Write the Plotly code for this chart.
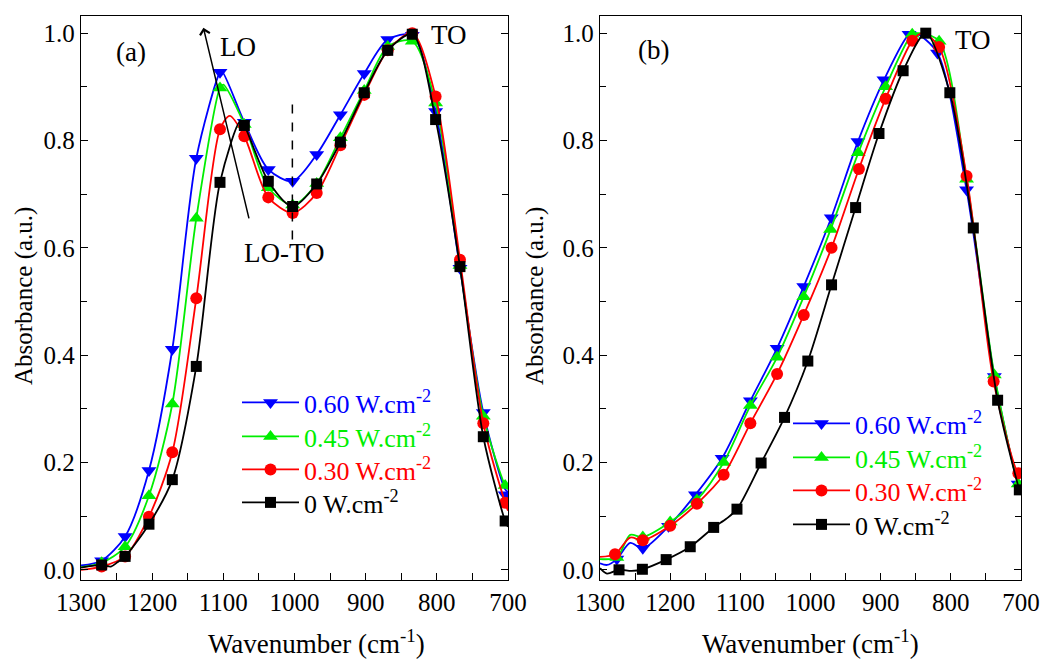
import plotly.graph_objects as go

# ---------------- Panel (a) data ----------------
a_mk_x = [1271, 1238, 1204.5, 1171.7, 1138, 1104.7, 1070.5, 1036.8, 1002.6, 968.8, 935.5, 902, 869, 834.5, 801.7, 767.5, 734.7, 704]
a_black_mk = [0.009, 0.025, 0.085, 0.168, 0.379, 0.722, 0.828, 0.724, 0.677, 0.719, 0.797, 0.889, 0.968, 0.998, 0.839, 0.565, 0.248, 0.091]
a_red_mk = [0.006, 0.025, 0.099, 0.219, 0.506, 0.821, 0.808, 0.694, 0.665, 0.702, 0.791, 0.885, 0.968, 1.0, 0.882, 0.578, 0.273, 0.125]
a_green_mk = [0.013, 0.043, 0.138, 0.309, 0.655, 0.898, 0.830, 0.712, 0.680, 0.720, 0.805, 0.893, 0.975, 0.985, 0.870, 0.567, 0.286, 0.157]
a_blue_mk = [0.017, 0.062, 0.185, 0.411, 0.767, 0.927, 0.834, 0.746, 0.724, 0.774, 0.848, 0.925, 0.988, 0.996, 0.854, 0.562, 0.293, 0.140]

a_black_lx = [1300, 1271, 1258, 1249, 1238, 1204.5, 1171.7, 1138, 1104.7, 1076, 1070.5, 1036.8, 1002.6, 968.8, 935.5, 902, 869, 834.5, 801.7, 767.5, 734.7, 704, 700]
a_black_ly = [0.004, 0.009, 0.006, 0.014, 0.025, 0.085, 0.168, 0.379, 0.722, 0.836, 0.828, 0.724, 0.677, 0.719, 0.797, 0.889, 0.968, 0.998, 0.839, 0.565, 0.248, 0.091, 0.080]
a_red_lx = [1300, 1271, 1238, 1204.5, 1171.7, 1138, 1104.7, 1091, 1070.5, 1036.8, 1002.6, 968.8, 935.5, 902, 869, 834.5, 801.7, 767.5, 734.7, 704, 700]
a_red_ly = [0.000, 0.006, 0.025, 0.099, 0.219, 0.506, 0.821, 0.846, 0.808, 0.694, 0.665, 0.702, 0.791, 0.885, 0.968, 1.0, 0.882, 0.578, 0.273, 0.125, 0.110]
a_green_lx = [1300, 1271, 1238, 1204.5, 1171.7, 1138, 1104.7, 1100, 1070.5, 1036.8, 1002.6, 968.8, 935.5, 902, 869, 834.5, 801.7, 767.5, 734.7, 704, 700]
a_green_ly = [0.005, 0.013, 0.043, 0.138, 0.309, 0.655, 0.898, 0.904, 0.830, 0.712, 0.680, 0.720, 0.805, 0.893, 0.975, 0.985, 0.870, 0.567, 0.286, 0.157, 0.150]
a_blue_lx = [1300, 1271, 1238, 1204.5, 1171.7, 1138, 1104.7, 1102, 1070.5, 1036.8, 1002.6, 968.8, 935.5, 902, 869, 834.5, 801.7, 767.5, 734.7, 704, 700]
a_blue_ly = [0.008, 0.017, 0.062, 0.185, 0.411, 0.767, 0.927, 0.929, 0.834, 0.746, 0.724, 0.774, 0.848, 0.925, 0.988, 0.996, 0.854, 0.562, 0.293, 0.150, 0.145]

# ---------------- Panel (b) data ----------------
b_black_mk_x = [1272.9, 1239.6, 1205.7, 1171.4, 1138, 1104.8, 1070.4, 1037, 1003.8, 970, 935.7, 902.4, 868, 835.7, 801.4, 768, 733.3, 702.4]
b_black_mk = [0.000, 0.001, 0.019, 0.043, 0.079, 0.113, 0.199, 0.284, 0.389, 0.531, 0.675, 0.813, 0.930, 1.0, 0.889, 0.637, 0.316, 0.149]
b_red_mk_x = [1278.6, 1239, 1200, 1161.9, 1123.8, 1085.7, 1047.6, 1009.6, 970, 931, 892.9, 854.8, 816.7, 777.6, 739, 703.8]
b_red_mk = [0.029, 0.055, 0.082, 0.123, 0.177, 0.273, 0.365, 0.475, 0.600, 0.747, 0.878, 0.986, 0.974, 0.734, 0.351, 0.180]
b_green_mk_x = [1276, 1239, 1200, 1161.9, 1123.8, 1085.7, 1047.6, 1009.6, 971.4, 931.9, 892.9, 855, 816.7, 777.6, 738, 704]
b_green_mk = [0.023, 0.061, 0.089, 0.130, 0.200, 0.306, 0.396, 0.509, 0.634, 0.777, 0.900, 0.998, 0.985, 0.728, 0.363, 0.160]
b_blue_mk_x = [1276, 1239, 1202.4, 1164, 1126, 1085.7, 1047.6, 1009.6, 970.4, 932.4, 895.3, 859.5, 819, 777.6, 738, 704]
b_blue_mk = [0.020, 0.040, 0.081, 0.140, 0.208, 0.315, 0.413, 0.528, 0.656, 0.798, 0.913, 0.998, 0.963, 0.708, 0.360, 0.160]

b_black_lx = [1300, 1290, 1272.9, 1255, 1239.6, 1205.7, 1171.4, 1138, 1120, 1104.8, 1070.4, 1037, 1003.8, 970, 935.7, 902.4, 868, 835.7, 801.4, 768, 733.3, 702.4, 700]
b_black_ly = [0.003, -0.007, 0.000, -0.002, 0.001, 0.019, 0.043, 0.079, 0.095, 0.113, 0.199, 0.284, 0.389, 0.531, 0.675, 0.813, 0.930, 1.0, 0.889, 0.637, 0.316, 0.149, 0.140]
b_red_lx = [1300, 1278.6, 1257, 1239, 1200, 1161.9, 1123.8, 1085.7, 1047.6, 1009.6, 970, 931, 892.9, 854.8, 840, 816.7, 777.6, 739, 703.8, 700]
b_red_ly = [0.024, 0.029, 0.060, 0.055, 0.082, 0.123, 0.177, 0.273, 0.365, 0.475, 0.600, 0.747, 0.878, 0.986, 1.0, 0.974, 0.734, 0.351, 0.180, 0.180]
b_green_lx = [1300, 1276, 1257, 1239, 1200, 1161.9, 1123.8, 1085.7, 1047.6, 1009.6, 971.4, 931.9, 892.9, 855, 845, 816.7, 777.6, 738, 704, 700]
b_green_ly = [0.020, 0.023, 0.065, 0.061, 0.089, 0.130, 0.200, 0.306, 0.396, 0.509, 0.634, 0.777, 0.900, 0.998, 1.0, 0.985, 0.728, 0.363, 0.160, 0.150]
b_blue_lx = [1300, 1290, 1276, 1257, 1239, 1202.4, 1164, 1126, 1085.7, 1047.6, 1009.6, 970.4, 932.4, 895.3, 859.5, 850, 819, 777.6, 738, 704, 700]
b_blue_ly = [0.012, 0.009, 0.020, 0.050, 0.040, 0.081, 0.140, 0.208, 0.315, 0.413, 0.528, 0.656, 0.798, 0.913, 0.998, 1.0, 0.963, 0.708, 0.360, 0.160, 0.150]

labels = ["0.60 W.cm<sup>-2</sup>", "0.45 W.cm<sup>-2</sup>", "0.30 W.cm<sup>-2</sup>", "0 W.cm<sup>-2</sup>"]
colors = ["#0000FF", "#00EE00", "#FF0000", "#000000"]
symbols = ["triangle-down", "triangle-up", "circle", "square"]
msizes = [13, 13, 12, 11]

FONT = "Liberation Serif"

fig = go.Figure()

# legend row centres (pixels from top) for each panel
legend_rows = {"a": [402, 436, 469, 502], "b": [423, 457, 490, 524]}
legend_left = {"a": 237, "b": 788}

panels = [
    ("a", "x", "y",
     [(a_blue_lx, a_blue_ly, a_mk_x, a_blue_mk),
      (a_green_lx, a_green_ly, a_mk_x, a_green_mk),
      (a_red_lx, a_red_ly, a_mk_x, a_red_mk),
      (a_black_lx, a_black_ly, a_mk_x, a_black_mk)]),
    ("b", "x2", "y2",
     [(b_blue_lx, b_blue_ly, b_blue_mk_x, b_blue_mk),
      (b_green_lx, b_green_ly, b_green_mk_x, b_green_mk),
      (b_red_lx, b_red_ly, b_red_mk_x, b_red_mk),
      (b_black_lx, b_black_ly, b_black_mk_x, b_black_mk)]),
]

legend_layouts = {}
lg_index = 1
for key, xa, ya, series in panels:
    for i, (lx, ly, mx, my) in enumerate(series):
        fig.add_trace(go.Scatter(x=lx, y=ly, mode="lines", xaxis=xa, yaxis=ya,
                                 line=dict(color=colors[i], width=1.8, shape="spline", smoothing=0.8),
                                 showlegend=False, hoverinfo="skip"))
        fig.add_trace(go.Scatter(x=mx, y=my, mode="markers", xaxis=xa, yaxis=ya,
                                 marker=dict(color=colors[i], symbol=symbols[i], size=msizes[i],
                                             line=dict(width=0)),
                                 showlegend=False))
    for i in range(4):
        lname = "legend" if lg_index == 1 else "legend%d" % lg_index
        fig.add_trace(go.Scatter(x=[None], y=[None], mode="lines+markers", xaxis=xa, yaxis=ya,
                                 name='<span style="color:%s">%s</span>' % (colors[i], labels[i]),
                                 line=dict(color=colors[i], width=1.8),
                                 marker=dict(color=colors[i], symbol=symbols[i], size=msizes[i]),
                                 legend=lname))
        legend_layouts[lname] = dict(
            x=legend_left[key] / 1050, y=1 - (legend_rows[key][i] - 23) / 659,
            xanchor="left", yanchor="top", bgcolor="rgba(0,0,0,0)",
            font=dict(family=FONT, size=26), itemwidth=57)
        lg_index += 1

axis_common = dict(showgrid=False, zeroline=False, ticks="inside", ticklen=7, tickwidth=1.3,
                   linecolor="black", linewidth=1.3, tickcolor="black", automargin=False,
                   tickfont=dict(family=FONT, size=25, color="black"))

xax = dict(range=[1300, 700], dtick=100, tick0=700, mirror=True,
           minor=dict(dtick=50, ticks="inside", ticklen=7, tickcolor="black", tickwidth=1.3),
           **axis_common)
yax = dict(range=[-0.019, 1.032], dtick=0.2, tick0=0, tickformat=".1f", mirror="ticks",
           minor=dict(dtick=0.1, ticks="inside", ticklen=6, tickcolor="black", tickwidth=1.3),
           **axis_common)

ytop = 1 - 16 / 659
ybot = 1 - 580 / 659

fig.update_layout(
    template="none",
    width=1050, height=659,
    margin=dict(l=0, r=0, t=0, b=0, autoexpand=False),
    paper_bgcolor="white", plot_bgcolor="white",
    font=dict(family=FONT, size=25, color="black"),
    xaxis=dict(domain=[81 / 1050, 508 / 1050], anchor="y", **xax),
    yaxis=dict(domain=[ybot, ytop], anchor="x", **yax),
    xaxis2=dict(domain=[600 / 1050, 1021 / 1050], anchor="y2", **xax),
    yaxis2=dict(domain=[ybot, ytop], anchor="x2", **yax),
    **legend_layouts,
)

ann_font = dict(family=FONT, size=27, color="black")
annotations = [
    dict(text="Wavenumber (cm<sup>-1</sup>)", x=316 / 1050, y=1 - 642 / 659, xref="paper", yref="paper",
         showarrow=False, font=ann_font, xanchor="center", yanchor="middle"),
    dict(text="Wavenumber (cm<sup>-1</sup>)", x=810 / 1050, y=1 - 642 / 659, xref="paper", yref="paper",
         showarrow=False, font=ann_font, xanchor="center", yanchor="middle"),
    dict(text="Absorbance (a.u.)", x=24 / 1050, y=1 - 296 / 659, xref="paper", yref="paper",
         showarrow=False, font=dict(family=FONT, size=25, color="black"), textangle=-90,
         xanchor="center", yanchor="middle"),
    dict(text="Absorbance (a.u.)", x=535 / 1050, y=1 - 296 / 659, xref="paper", yref="paper",
         showarrow=False, font=dict(family=FONT, size=25, color="black"), textangle=-90,
         xanchor="center", yanchor="middle"),
    dict(text="(a)", x=1253, y=0.964, xref="x", yref="y", showarrow=False, font=ann_font,
         xanchor="left", yanchor="middle"),
    dict(text="LO", x=1108, y=0.975, xref="x", yref="y", showarrow=False, font=ann_font,
         xanchor="left", yanchor="middle"),
    dict(text="TO", x=811, y=0.997, xref="x", yref="y", showarrow=False, font=ann_font,
         xanchor="left", yanchor="middle"),
    dict(text="LO-TO", x=1074, y=0.591, xref="x", yref="y", showarrow=False, font=ann_font,
         xanchor="left", yanchor="middle"),
    dict(text="", x=1128, y=1.010, ax=1063.5, ay=0.652, xref="x", yref="y", axref="x", ayref="y",
         showarrow=True, arrowhead=4, arrowsize=1.3, arrowwidth=1.5, arrowcolor="black"),
    dict(text="(b)", x=1248, y=0.969, xref="x2", yref="y2", showarrow=False, font=ann_font,
         xanchor="left", yanchor="middle"),
    dict(text="TO", x=797, y=0.988, xref="x2", yref="y2", showarrow=False, font=ann_font,
         xanchor="left", yanchor="middle"),
]
fig.update_layout(annotations=annotations)

fig.add_shape(type="line", x0=1003, x1=1003, y0=0.867, y1=0.605, xref="x", yref="y",
              line=dict(color="black", width=1.5, dash="dash"))

fig.write_html("out.html", config={"displayModeBar": False},
               post_script="document.body.style.margin='0';document.body.style.overflow='hidden';")
